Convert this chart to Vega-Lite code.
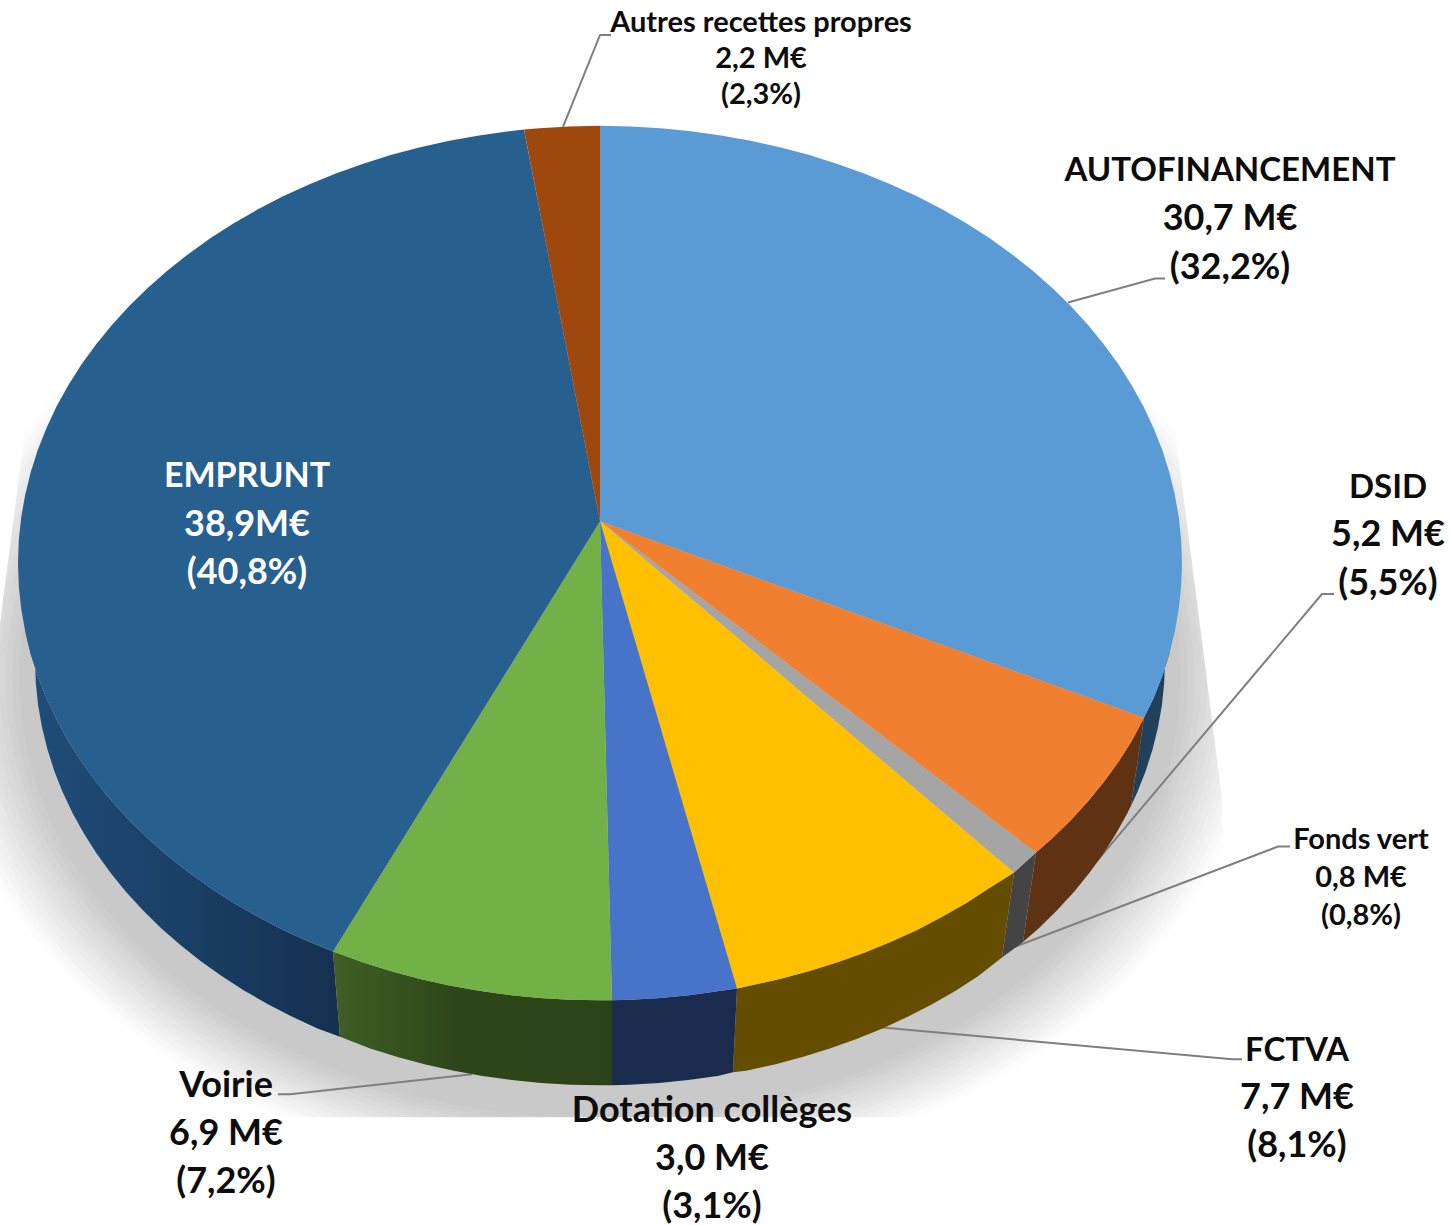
{"$schema":"https://vega.github.io/schema/vega-lite/v6.json","width":1450,"height":1225,"autosize":{"type":"fit","contains":"padding"},"padding":0,"background":"white","view":{"stroke":null},
"datasets":{
"shadow":[{"x":600,"y":680}],
"mask":[
{"m":"right","x":1175,"y":430},{"m":"right","x":1222,"y":800},{"m":"right","x":1222,"y":1119},{"m":"right","x":1450,"y":1119},{"m":"right","x":1450,"y":430},
{"m":"bottom","x":0,"y":1119},{"m":"bottom","x":1450,"y":1119},{"m":"bottom","x":1450,"y":1225},{"m":"bottom","x":0,"y":1225},
{"m":"left","x":25,"y":430},{"m":"left","x":0,"y":625},{"m":"left","x":0,"y":430}],
"leaders":[
{"s":"Autres recettes propres","x":563,"y":127},{"s":"Autres recettes propres","x":600,"y":35},{"s":"Autres recettes propres","x":611,"y":35},
{"s":"AUTOFINANCEMENT","x":1068,"y":303},{"s":"AUTOFINANCEMENT","x":1155,"y":279},{"s":"AUTOFINANCEMENT","x":1165,"y":279},
{"s":"DSID","x":1083,"y":879},{"s":"DSID","x":1322,"y":595},{"s":"DSID","x":1334,"y":595},
{"s":"Fonds vert","x":1008,"y":951},{"s":"Fonds vert","x":1278,"y":848},{"s":"Fonds vert","x":1290,"y":848},
{"s":"FCTVA","x":880,"y":1029},{"s":"FCTVA","x":1232,"y":1061},{"s":"FCTVA","x":1242,"y":1061},
{"s":"Voirie","x":472,"y":1076},{"s":"Voirie","x":290,"y":1096},{"s":"Voirie","x":278,"y":1096}],
"walls":[
{"s":"AUTOFINANCEMENT","x":1172,"y":641},{"s":"AUTOFINANCEMENT","x":1169.3,"y":655.1},{"s":"AUTOFINANCEMENT","x":1162.2,"y":677.4},{"s":"AUTOFINANCEMENT","x":1153.5,"y":699.3},{"s":"AUTOFINANCEMENT","x":1144,"y":719},{"s":"AUTOFINANCEMENT","x":1131,"y":807},{"s":"AUTOFINANCEMENT","x":1137.4,"y":793.3},{"s":"AUTOFINANCEMENT","x":1145.8,"y":772},{"s":"AUTOFINANCEMENT","x":1152.6,"y":750.4},{"s":"AUTOFINANCEMENT","x":1158,"y":728.5},{"s":"AUTOFINANCEMENT","x":1161.9,"y":706.4},{"s":"AUTOFINANCEMENT","x":1164.2,"y":684.2},{"s":"AUTOFINANCEMENT","x":1165,"y":662},
{"s":"DSID","x":1144,"y":719},{"s":"DSID","x":1131.7,"y":742.1},{"s":"DSID","x":1118.6,"y":762.9},{"s":"DSID","x":1104,"y":783},{"s":"DSID","x":1088.1,"y":802.5},{"s":"DSID","x":1070.8,"y":821.5},{"s":"DSID","x":1052.3,"y":839.6},{"s":"DSID","x":1036,"y":854},{"s":"DSID","x":1023,"y":943.6},{"s":"DSID","x":1039.1,"y":929.4},{"s":"DSID","x":1057.1,"y":911.8},{"s":"DSID","x":1073.9,"y":893.4},{"s":"DSID","x":1089.3,"y":874.5},{"s":"DSID","x":1103.4,"y":855},{"s":"DSID","x":1116.1,"y":834.9},{"s":"DSID","x":1127.5,"y":814.3},{"s":"DSID","x":1131,"y":807},
{"s":"Fonds vert","x":1036,"y":854},{"s":"Fonds vert","x":1014,"y":874},{"s":"Fonds vert","x":1002,"y":959},{"s":"Fonds vert","x":1023,"y":943.6},
{"s":"FCTVA","x":1014,"y":874},{"s":"FCTVA","x":989.4,"y":889.5},{"s":"FCTVA","x":966.3,"y":904.4},{"s":"FCTVA","x":942.1,"y":918.3},{"s":"FCTVA","x":917,"y":931.4},{"s":"FCTVA","x":891,"y":943.3},{"s":"FCTVA","x":864.2,"y":954.3},{"s":"FCTVA","x":836.7,"y":964.1},{"s":"FCTVA","x":808.6,"y":972.9},{"s":"FCTVA","x":779.8,"y":980.6},{"s":"FCTVA","x":750.6,"y":987.1},{"s":"FCTVA","x":737,"y":990},{"s":"FCTVA","x":733,"y":1074},{"s":"FCTVA","x":746.2,"y":1072.5},{"s":"FCTVA","x":774.6,"y":1066.2},{"s":"FCTVA","x":802.5,"y":1058.8},{"s":"FCTVA","x":829.8,"y":1050.2},{"s":"FCTVA","x":856.5,"y":1040.7},{"s":"FCTVA","x":882.5,"y":1030.1},{"s":"FCTVA","x":907.7,"y":1018.5},{"s":"FCTVA","x":932.1,"y":1005.8},{"s":"FCTVA","x":955.6,"y":992.3},{"s":"FCTVA","x":978,"y":977.8},{"s":"FCTVA","x":1002,"y":959},
{"s":"Dotation collèges","x":737,"y":990},{"s":"Dotation collèges","x":721,"y":992.4},{"s":"Dotation collèges","x":691,"y":996.6},{"s":"Dotation collèges","x":660.8,"y":999.6},{"s":"Dotation collèges","x":630.4,"y":1001.4},{"s":"Dotation collèges","x":612,"y":1002},{"s":"Dotation collèges","x":612,"y":1087},{"s":"Dotation collèges","x":629.5,"y":1086.4},{"s":"Dotation collèges","x":659,"y":1084.7},{"s":"Dotation collèges","x":688.3,"y":1081.8},{"s":"Dotation collèges","x":717.5,"y":1077.7},{"s":"Dotation collèges","x":733,"y":1074},
{"s":"Voirie","x":612,"y":1002},{"s":"Voirie","x":600,"y":1002},{"s":"Voirie","x":569.6,"y":1001.4},{"s":"Voirie","x":539.2,"y":999.6},{"s":"Voirie","x":509,"y":996.6},{"s":"Voirie","x":479,"y":992.4},{"s":"Voirie","x":449.4,"y":987.1},{"s":"Voirie","x":420.2,"y":980.6},{"s":"Voirie","x":391.4,"y":972.9},{"s":"Voirie","x":363.3,"y":964.1},{"s":"Voirie","x":333,"y":953},{"s":"Voirie","x":340,"y":1038.5},{"s":"Voirie","x":370.2,"y":1050.2},{"s":"Voirie","x":397.5,"y":1058.8},{"s":"Voirie","x":425.4,"y":1066.2},{"s":"Voirie","x":453.8,"y":1072.5},{"s":"Voirie","x":482.5,"y":1077.7},{"s":"Voirie","x":511.7,"y":1081.8},{"s":"Voirie","x":541,"y":1084.7},{"s":"Voirie","x":570.5,"y":1086.4},{"s":"Voirie","x":600,"y":1087},{"s":"Voirie","x":612,"y":1087},
{"s":"EMPRUNT","x":333,"y":953},{"s":"EMPRUNT","x":309,"y":943.3},{"s":"EMPRUNT","x":283,"y":931.4},{"s":"EMPRUNT","x":257.9,"y":918.3},{"s":"EMPRUNT","x":233.7,"y":904.4},{"s":"EMPRUNT","x":210.6,"y":889.5},{"s":"EMPRUNT","x":188.5,"y":873.7},{"s":"EMPRUNT","x":167.5,"y":857.1},{"s":"EMPRUNT","x":147.7,"y":839.6},{"s":"EMPRUNT","x":129.2,"y":821.5},{"s":"EMPRUNT","x":111.9,"y":802.5},{"s":"EMPRUNT","x":96,"y":783},{"s":"EMPRUNT","x":81.4,"y":762.9},{"s":"EMPRUNT","x":68.3,"y":742.1},{"s":"EMPRUNT","x":56.6,"y":721},{"s":"EMPRUNT","x":46.5,"y":699.3},{"s":"EMPRUNT","x":37.8,"y":677.4},{"s":"EMPRUNT","x":30.7,"y":655.1},{"s":"EMPRUNT","x":25.2,"y":632.5},{"s":"EMPRUNT","x":35,"y":662},{"s":"EMPRUNT","x":35.8,"y":684.2},{"s":"EMPRUNT","x":38.1,"y":706.4},{"s":"EMPRUNT","x":42,"y":728.5},{"s":"EMPRUNT","x":47.4,"y":750.4},{"s":"EMPRUNT","x":54.2,"y":772},{"s":"EMPRUNT","x":62.6,"y":793.3},{"s":"EMPRUNT","x":72.5,"y":814.3},{"s":"EMPRUNT","x":83.9,"y":834.9},{"s":"EMPRUNT","x":96.6,"y":855},{"s":"EMPRUNT","x":110.7,"y":874.5},{"s":"EMPRUNT","x":126.1,"y":893.4},{"s":"EMPRUNT","x":142.9,"y":911.8},{"s":"EMPRUNT","x":160.9,"y":929.4},{"s":"EMPRUNT","x":180.1,"y":946.4},{"s":"EMPRUNT","x":200.5,"y":962.5},{"s":"EMPRUNT","x":222,"y":977.8},{"s":"EMPRUNT","x":244.4,"y":992.3},{"s":"EMPRUNT","x":267.9,"y":1005.8},{"s":"EMPRUNT","x":292.3,"y":1018.5},{"s":"EMPRUNT","x":317.5,"y":1030.1},{"s":"EMPRUNT","x":340,"y":1038.5}],
"top":[
{"s":"AUTOFINANCEMENT","x":600,"y":522},{"s":"AUTOFINANCEMENT","x":600,"y":126},{"s":"AUTOFINANCEMENT","x":630.4,"y":126.6},{"s":"AUTOFINANCEMENT","x":660.8,"y":128.4},{"s":"AUTOFINANCEMENT","x":691,"y":131.4},{"s":"AUTOFINANCEMENT","x":721,"y":135.6},{"s":"AUTOFINANCEMENT","x":750.6,"y":140.9},{"s":"AUTOFINANCEMENT","x":779.8,"y":147.4},{"s":"AUTOFINANCEMENT","x":808.6,"y":155.1},{"s":"AUTOFINANCEMENT","x":836.7,"y":163.9},{"s":"AUTOFINANCEMENT","x":864.2,"y":173.7},{"s":"AUTOFINANCEMENT","x":891,"y":184.7},{"s":"AUTOFINANCEMENT","x":917,"y":196.6},{"s":"AUTOFINANCEMENT","x":942.1,"y":209.7},{"s":"AUTOFINANCEMENT","x":966.3,"y":223.6},{"s":"AUTOFINANCEMENT","x":989.4,"y":238.5},{"s":"AUTOFINANCEMENT","x":1011.5,"y":254.3},{"s":"AUTOFINANCEMENT","x":1032.5,"y":270.9},{"s":"AUTOFINANCEMENT","x":1052.3,"y":288.4},{"s":"AUTOFINANCEMENT","x":1070.8,"y":306.5},{"s":"AUTOFINANCEMENT","x":1088.1,"y":325.5},{"s":"AUTOFINANCEMENT","x":1104,"y":345},{"s":"AUTOFINANCEMENT","x":1118.6,"y":365.1},{"s":"AUTOFINANCEMENT","x":1131.7,"y":385.9},{"s":"AUTOFINANCEMENT","x":1143.4,"y":407},{"s":"AUTOFINANCEMENT","x":1153.5,"y":428.7},{"s":"AUTOFINANCEMENT","x":1162.2,"y":450.6},{"s":"AUTOFINANCEMENT","x":1169.3,"y":472.9},{"s":"AUTOFINANCEMENT","x":1174.8,"y":495.5},{"s":"AUTOFINANCEMENT","x":1178.8,"y":518.2},{"s":"AUTOFINANCEMENT","x":1181.2,"y":541.1},{"s":"AUTOFINANCEMENT","x":1182,"y":564},{"s":"AUTOFINANCEMENT","x":1181.2,"y":586.9},{"s":"AUTOFINANCEMENT","x":1178.8,"y":609.8},{"s":"AUTOFINANCEMENT","x":1174.8,"y":632.5},{"s":"AUTOFINANCEMENT","x":1169.3,"y":655.1},{"s":"AUTOFINANCEMENT","x":1162.2,"y":677.4},{"s":"AUTOFINANCEMENT","x":1153.5,"y":699.3},{"s":"AUTOFINANCEMENT","x":1144,"y":719},
{"s":"DSID","x":600,"y":522},{"s":"DSID","x":1144,"y":719},{"s":"DSID","x":1131.7,"y":742.1},{"s":"DSID","x":1118.6,"y":762.9},{"s":"DSID","x":1104,"y":783},{"s":"DSID","x":1088.1,"y":802.5},{"s":"DSID","x":1070.8,"y":821.5},{"s":"DSID","x":1052.3,"y":839.6},{"s":"DSID","x":1036,"y":854},
{"s":"Fonds vert","x":600,"y":522},{"s":"Fonds vert","x":1036,"y":854},{"s":"Fonds vert","x":1014,"y":874},
{"s":"FCTVA","x":600,"y":522},{"s":"FCTVA","x":1014,"y":874},{"s":"FCTVA","x":989.4,"y":889.5},{"s":"FCTVA","x":966.3,"y":904.4},{"s":"FCTVA","x":942.1,"y":918.3},{"s":"FCTVA","x":917,"y":931.4},{"s":"FCTVA","x":891,"y":943.3},{"s":"FCTVA","x":864.2,"y":954.3},{"s":"FCTVA","x":836.7,"y":964.1},{"s":"FCTVA","x":808.6,"y":972.9},{"s":"FCTVA","x":779.8,"y":980.6},{"s":"FCTVA","x":750.6,"y":987.1},{"s":"FCTVA","x":737,"y":990},
{"s":"Dotation collèges","x":600,"y":522},{"s":"Dotation collèges","x":737,"y":990},{"s":"Dotation collèges","x":721,"y":992.4},{"s":"Dotation collèges","x":691,"y":996.6},{"s":"Dotation collèges","x":660.8,"y":999.6},{"s":"Dotation collèges","x":630.4,"y":1001.4},{"s":"Dotation collèges","x":612,"y":1002},
{"s":"Voirie","x":600,"y":522},{"s":"Voirie","x":612,"y":1002},{"s":"Voirie","x":600,"y":1002},{"s":"Voirie","x":569.6,"y":1001.4},{"s":"Voirie","x":539.2,"y":999.6},{"s":"Voirie","x":509,"y":996.6},{"s":"Voirie","x":479,"y":992.4},{"s":"Voirie","x":449.4,"y":987.1},{"s":"Voirie","x":420.2,"y":980.6},{"s":"Voirie","x":391.4,"y":972.9},{"s":"Voirie","x":363.3,"y":964.1},{"s":"Voirie","x":333,"y":953},
{"s":"EMPRUNT","x":600,"y":522},{"s":"EMPRUNT","x":333,"y":953},{"s":"EMPRUNT","x":309,"y":943.3},{"s":"EMPRUNT","x":283,"y":931.4},{"s":"EMPRUNT","x":257.9,"y":918.3},{"s":"EMPRUNT","x":233.7,"y":904.4},{"s":"EMPRUNT","x":210.6,"y":889.5},{"s":"EMPRUNT","x":188.5,"y":873.7},{"s":"EMPRUNT","x":167.5,"y":857.1},{"s":"EMPRUNT","x":147.7,"y":839.6},{"s":"EMPRUNT","x":129.2,"y":821.5},{"s":"EMPRUNT","x":111.9,"y":802.5},{"s":"EMPRUNT","x":96,"y":783},{"s":"EMPRUNT","x":81.4,"y":762.9},{"s":"EMPRUNT","x":68.3,"y":742.1},{"s":"EMPRUNT","x":56.6,"y":721},{"s":"EMPRUNT","x":46.5,"y":699.3},{"s":"EMPRUNT","x":37.8,"y":677.4},{"s":"EMPRUNT","x":30.7,"y":655.1},{"s":"EMPRUNT","x":25.2,"y":632.5},{"s":"EMPRUNT","x":21.2,"y":609.8},{"s":"EMPRUNT","x":18.8,"y":586.9},{"s":"EMPRUNT","x":18,"y":564},{"s":"EMPRUNT","x":18.8,"y":541.1},{"s":"EMPRUNT","x":21.2,"y":518.2},{"s":"EMPRUNT","x":25.2,"y":495.5},{"s":"EMPRUNT","x":30.7,"y":472.9},{"s":"EMPRUNT","x":37.8,"y":450.6},{"s":"EMPRUNT","x":46.5,"y":428.7},{"s":"EMPRUNT","x":56.6,"y":407},{"s":"EMPRUNT","x":68.3,"y":385.9},{"s":"EMPRUNT","x":81.4,"y":365.1},{"s":"EMPRUNT","x":96,"y":345},{"s":"EMPRUNT","x":111.9,"y":325.5},{"s":"EMPRUNT","x":129.2,"y":306.5},{"s":"EMPRUNT","x":147.7,"y":288.4},{"s":"EMPRUNT","x":167.5,"y":270.9},{"s":"EMPRUNT","x":188.5,"y":254.3},{"s":"EMPRUNT","x":210.6,"y":238.5},{"s":"EMPRUNT","x":233.7,"y":223.6},{"s":"EMPRUNT","x":257.9,"y":209.7},{"s":"EMPRUNT","x":283,"y":196.6},{"s":"EMPRUNT","x":309,"y":184.7},{"s":"EMPRUNT","x":335.8,"y":173.7},{"s":"EMPRUNT","x":363.3,"y":163.9},{"s":"EMPRUNT","x":391.4,"y":155.1},{"s":"EMPRUNT","x":420.2,"y":147.4},{"s":"EMPRUNT","x":449.4,"y":140.9},{"s":"EMPRUNT","x":479,"y":135.6},{"s":"EMPRUNT","x":509,"y":131.4},{"s":"EMPRUNT","x":524,"y":129.7},
{"s":"Autres recettes propres","x":600,"y":522},{"s":"Autres recettes propres","x":524,"y":129.7},{"s":"Autres recettes propres","x":539.2,"y":128.4},{"s":"Autres recettes propres","x":569.6,"y":126.6},{"s":"Autres recettes propres","x":600,"y":126}],
"labelsCaps":[
{"s":"AUTOFINANCEMENT","x":1230,"y":171,"t":"AUTOFINANCEMENT"},
{"s":"DSID","x":1388,"y":489,"t":"DSID"},
{"s":"FCTVA","x":1297,"y":1053,"t":"FCTVA"}],
"labelsBig":[
{"s":"AUTOFINANCEMENT","x":1230,"y":219,"t":"30,7 M€"},{"s":"AUTOFINANCEMENT","x":1230,"y":268,"t":"(32,2%)"},
{"s":"DSID","x":1388,"y":536,"t":"5,2 M€"},{"s":"DSID","x":1388,"y":585,"t":"(5,5%)"},
{"s":"FCTVA","x":1297,"y":1100,"t":"7,7 M€"},{"s":"FCTVA","x":1297,"y":1148,"t":"(8,1%)"},
{"s":"Voirie","x":226,"y":1088,"t":"Voirie"},{"s":"Voirie","x":226,"y":1136,"t":"6,9 M€"},{"s":"Voirie","x":226,"y":1184,"t":"(7,2%)"},
{"s":"Dotation collèges","x":712,"y":1113,"t":"Dotation collèges"},{"s":"Dotation collèges","x":712,"y":1161,"t":"3,0 M€"},{"s":"Dotation collèges","x":712,"y":1209,"t":"(3,1%)"}],
"labelsWhiteCaps":[{"s":"EMPRUNT","x":247,"y":478,"t":"EMPRUNT"}],
"labelsWhite":[{"s":"EMPRUNT","x":247,"y":526,"t":"38,9M€"},{"s":"EMPRUNT","x":247,"y":574,"t":"(40,8%)"}],
"labelsSmall":[
{"s":"Autres recettes propres","x":761,"y":23,"t":"Autres recettes propres"},{"s":"Autres recettes propres","x":761,"y":59,"t":"2,2 M€"},{"s":"Autres recettes propres","x":761,"y":95,"t":"(2,3%)"},
{"s":"Fonds vert","x":1361,"y":841,"t":"Fonds vert"},{"s":"Fonds vert","x":1361,"y":879,"t":"0,8 M€"},{"s":"Fonds vert","x":1361,"y":917,"t":"(0,8%)"}]
},
"encoding":{"x":{"field":"x","type":"quantitative","scale":{"domain":[0,1450],"nice":false,"zero":false},"axis":null},"y":{"field":"y","type":"quantitative","scale":{"domain":[1225,0],"nice":false,"zero":false},"axis":null}},
"resolve":{"scale":{"fill":"independent"}},
"layer":[
{"data":{"name":"shadow"},"mark":{"type":"point","clip":true,"filled":true,"opacity":1,"strokeWidth":0,"shape":"M-1,0A1,0.757,0,1,0,1,0A1,0.757,0,1,0,-1,0Z","size":1742400,"fill":"#fcfcfc"}},
{"data":{"name":"shadow"},"mark":{"type":"point","clip":true,"filled":true,"opacity":1,"strokeWidth":0,"shape":"M-1,0A1,0.757,0,1,0,1,0A1,0.757,0,1,0,-1,0Z","size":1707726,"fill":"#f8f8f8"}},
{"data":{"name":"shadow"},"mark":{"type":"point","clip":true,"filled":true,"opacity":1,"strokeWidth":0,"shape":"M-1,0A1,0.757,0,1,0,1,0A1,0.757,0,1,0,-1,0Z","size":1673401,"fill":"#f3f3f3"}},
{"data":{"name":"shadow"},"mark":{"type":"point","clip":true,"filled":true,"opacity":1,"strokeWidth":0,"shape":"M-1,0A1,0.757,0,1,0,1,0A1,0.757,0,1,0,-1,0Z","size":1639424,"fill":"#efefef"}},
{"data":{"name":"shadow"},"mark":{"type":"point","clip":true,"filled":true,"opacity":1,"strokeWidth":0,"shape":"M-1,0A1,0.757,0,1,0,1,0A1,0.757,0,1,0,-1,0Z","size":1605796,"fill":"#ebebeb"}},
{"data":{"name":"shadow"},"mark":{"type":"point","clip":true,"filled":true,"opacity":1,"strokeWidth":0,"shape":"M-1,0A1,0.757,0,1,0,1,0A1,0.757,0,1,0,-1,0Z","size":1572516,"fill":"#e7e7e7"}},
{"data":{"name":"shadow"},"mark":{"type":"point","clip":true,"filled":true,"opacity":1,"strokeWidth":0,"shape":"M-1,0A1,0.757,0,1,0,1,0A1,0.757,0,1,0,-1,0Z","size":1539585,"fill":"#e2e2e2"}},
{"data":{"name":"shadow"},"mark":{"type":"point","clip":true,"filled":true,"opacity":1,"strokeWidth":0,"shape":"M-1,0A1,0.757,0,1,0,1,0A1,0.757,0,1,0,-1,0Z","size":1507002,"fill":"#dedede"}},
{"data":{"name":"shadow"},"mark":{"type":"point","clip":true,"filled":true,"opacity":1,"strokeWidth":0,"shape":"M-1,0A1,0.757,0,1,0,1,0A1,0.757,0,1,0,-1,0Z","size":1474767,"fill":"#dadada"}},
{"data":{"name":"shadow"},"mark":{"type":"point","clip":true,"filled":true,"opacity":1,"strokeWidth":0,"shape":"M-1,0A1,0.757,0,1,0,1,0A1,0.757,0,1,0,-1,0Z","size":1442881,"fill":"#d6d6d6"}},
{"data":{"name":"shadow"},"mark":{"type":"point","clip":true,"filled":true,"opacity":1,"strokeWidth":0,"shape":"M-1,0A1,0.757,0,1,0,1,0A1,0.757,0,1,0,-1,0Z","size":1411344,"fill":"#d1d1d1"}},
{"data":{"name":"shadow"},"mark":{"type":"point","clip":true,"filled":true,"opacity":1,"strokeWidth":0,"shape":"M-1,0A1,0.757,0,1,0,1,0A1,0.757,0,1,0,-1,0Z","size":1380155,"fill":"#cdcdcd"}},
{"data":{"name":"shadow"},"mark":{"type":"point","clip":true,"filled":true,"opacity":1,"strokeWidth":0,"shape":"M-1,0A1,0.757,0,1,0,1,0A1,0.757,0,1,0,-1,0Z","size":1349314,"fill":"#c9c9c9"}},
{"data":{"name":"mask"},"transform":[{"window":[{"op":"row_number","as":"o"}]}],"mark":{"type":"line","interpolate":"linear-closed","strokeWidth":0,"fill":"#ffffff"},"encoding":{"detail":{"field":"m"},"order":{"field":"o","type":"quantitative"}}},
{"data":{"name":"leaders"},"transform":[{"window":[{"op":"row_number","as":"o"}]}],"mark":{"type":"line","color":"#7f7f7f","strokeWidth":2},"encoding":{"detail":{"field":"s"},"order":{"field":"o","type":"quantitative"}}},
{"data":{"name":"walls"},"transform":[{"filter":"datum.s !== 'EMPRUNT' && datum.s !== 'Voirie'"},{"window":[{"op":"row_number","as":"o"}]}],"mark":{"type":"line","interpolate":"linear-closed","strokeWidth":0},"encoding":{"order":{"field":"o","type":"quantitative"},"fill":{"field":"s","type":"nominal","legend":null,"scale":{"domain":["AUTOFINANCEMENT","DSID","Fonds vert","FCTVA","Dotation collèges"],"range":["#20405c","#5f3213","#444444","#654d00","#1a2b4e"]}}}},
{"data":{"name":"walls"},"transform":[{"filter":"datum.s === 'EMPRUNT'"},{"window":[{"op":"row_number","as":"o"}]}],"mark":{"type":"line","interpolate":"linear-closed","strokeWidth":0,"fill":{"gradient":"linear","x1":0,"y1":0,"x2":1,"y2":0,"stops":[{"offset":0,"color":"#1f4e78"},{"offset":0.5,"color":"#1a3f66"},{"offset":1,"color":"#15304f"}]}},"encoding":{"order":{"field":"o","type":"quantitative"}}},
{"data":{"name":"walls"},"transform":[{"filter":"datum.s === 'Voirie'"},{"window":[{"op":"row_number","as":"o"}]}],"mark":{"type":"line","interpolate":"linear-closed","strokeWidth":0,"fill":{"gradient":"linear","x1":0,"y1":0,"x2":1,"y2":0,"stops":[{"offset":0,"color":"#3f5f25"},{"offset":0.45,"color":"#2e4519"},{"offset":1,"color":"#2c431a"}]}},"encoding":{"order":{"field":"o","type":"quantitative"}}},
{"data":{"name":"top"},"transform":[{"window":[{"op":"row_number","as":"o"}]}],"mark":{"type":"line","interpolate":"linear-closed","strokeWidth":0},"encoding":{"order":{"field":"o","type":"quantitative"},"fill":{"field":"s","type":"nominal","legend":null,"scale":{"domain":["AUTOFINANCEMENT","DSID","Fonds vert","FCTVA","Dotation collèges","Voirie","EMPRUNT","Autres recettes propres"],"range":["#5b9bd5","#f07f30","#a5a5a5","#ffc000","#4773c8","#72b048","#27608f","#9e480e"]}}}},
{"data":{"name":"labelsCaps"},"mark":{"type":"text","font":"Lato","fontWeight":"bold","fontSize":33,"align":"center","baseline":"middle","color":"#0d0d0d"},"encoding":{"text":{"field":"t"}}},
{"data":{"name":"labelsBig"},"mark":{"type":"text","font":"Lato","fontWeight":"bold","fontSize":36,"align":"center","baseline":"middle","color":"#0d0d0d"},"encoding":{"text":{"field":"t"}}},
{"data":{"name":"labelsWhiteCaps"},"mark":{"type":"text","font":"Lato","fontWeight":"bold","fontSize":34,"align":"center","baseline":"middle","color":"#ffffff"},"encoding":{"text":{"field":"t"}}},
{"data":{"name":"labelsWhite"},"mark":{"type":"text","font":"Lato","fontWeight":"bold","fontSize":36,"align":"center","baseline":"middle","color":"#ffffff"},"encoding":{"text":{"field":"t"}}},
{"data":{"name":"labelsSmall"},"mark":{"type":"text","font":"Lato","fontWeight":"bold","fontSize":29,"align":"center","baseline":"middle","color":"#0d0d0d"},"encoding":{"text":{"field":"t"}}}
]}
